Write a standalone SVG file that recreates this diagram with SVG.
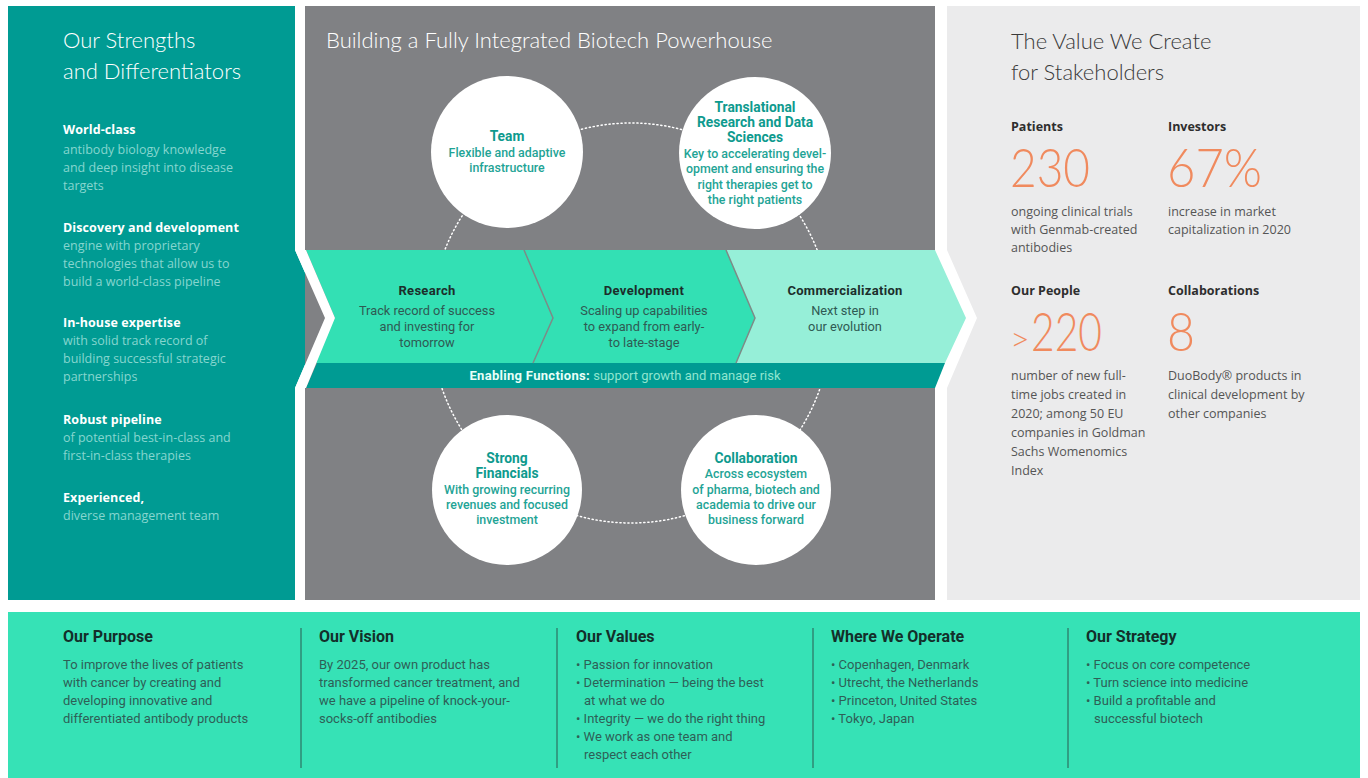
<svg xmlns="http://www.w3.org/2000/svg" width="1368" height="778" viewBox="0 0 1368 778">
<style>
.ttl{font-family:Lato,"Open Sans",sans-serif;font-weight:300;font-size:22px}
.lh{font-family:"Open Sans",sans-serif;font-weight:700;font-size:12.5px;fill:#ffffff;letter-spacing:0.1px}
.lb{font-family:"Open Sans",sans-serif;font-size:12.5px;fill:#86d6cf}
.ch{font-family:Roboto,sans-serif;font-weight:700;font-size:13.8px;fill:#0e9a8e;text-anchor:middle}
.cb{font-family:Roboto,sans-serif;font-weight:500;font-size:12.4px;fill:#1fa496;text-anchor:middle}
.bh{font-family:Roboto,sans-serif;font-weight:700;font-size:13px;fill:#1c2e2b;text-anchor:middle;letter-spacing:0.3px}
.bb{font-family:Roboto,sans-serif;font-size:12.8px;fill:#2f5a53;text-anchor:middle}
.rh{font-family:"Open Sans",sans-serif;font-weight:700;font-size:12.5px;fill:#2e2e2e}
.rb{font-family:"Open Sans",sans-serif;font-size:12.5px;fill:#555555}
.num{font-family:Lato,"Open Sans",sans-serif;font-weight:300;font-size:54px;fill:#f08a5e}
.fh{font-family:Roboto,sans-serif;font-weight:700;font-size:16px;fill:#132f2a}
.fb{font-family:Roboto,sans-serif;font-size:13px;fill:#2e5f56}
.dv{stroke:#2b5a51;stroke-width:1}
.circ{fill:#ffffff}
</style>

<rect width="1368" height="778" fill="#ffffff"/>

<g id="strengths">
  <polygon points="8,6 295,6 295,250 325,318 295,388 295,600 8,600" fill="#009b93"/>
  <text class="ttl" fill="#ffffff"><tspan x="63" y="48">Our Strengths</tspan><tspan x="63" y="79">and Differentiators</tspan></text>
  <text class="lh" x="63" y="134">World-class</text>
  <text class="lb"><tspan x="63" y="154">antibody biology knowledge</tspan><tspan x="63" y="172">and deep insight into disease</tspan><tspan x="63" y="190">targets</tspan></text>
  <text class="lh" x="63" y="232">Discovery and development</text>
  <text class="lb"><tspan x="63" y="250">engine with proprietary</tspan><tspan x="63" y="268">technologies that allow us to</tspan><tspan x="63" y="286">build a world-class pipeline</tspan></text>
  <text class="lh" x="63" y="327">In-house expertise</text>
  <text class="lb"><tspan x="63" y="345">with solid track record of</tspan><tspan x="63" y="363">building successful strategic</tspan><tspan x="63" y="381">partnerships</tspan></text>
  <text class="lh" x="63" y="424">Robust pipeline</text>
  <text class="lb"><tspan x="63" y="442">of potential best-in-class and</tspan><tspan x="63" y="460">first-in-class therapies</tspan></text>
  <text class="lh" x="63" y="502">Experienced,</text>
  <text class="lb" x="63" y="520">diverse management team</text>
</g>

<g id="powerhouse-panel">
  <rect x="305" y="6" width="630" height="594" fill="#808184"/>
  <text class="ttl" fill="#ffffff" x="326" y="48">Building a Fully Integrated Biotech Powerhouse</text>
</g>

<g id="connectors">
  <circle cx="631" cy="323" r="200" fill="none" stroke="#ffffff" stroke-width="1.5" stroke-dasharray="1.2 2.8" stroke-linecap="round"/>
</g>

<g id="team">
  <circle class="circ" cx="507" cy="152" r="76"/>
  <text class="ch" x="507" y="141">Team</text>
  <text class="cb"><tspan x="507" y="157">Flexible and adaptive</tspan><tspan x="507" y="172">infrastructure</tspan></text>
</g>

<g id="translational">
  <circle class="circ" cx="755" cy="153" r="76"/>
  <text class="ch"><tspan x="755" y="112">Translational</tspan><tspan x="755" y="127">Research and Data</tspan><tspan x="755" y="142">Sciences</tspan></text>
  <text class="cb"><tspan x="755" y="157.5">Key to accelerating devel-</tspan><tspan x="755" y="173">opment and ensuring the</tspan><tspan x="755" y="188.5">right therapies get to</tspan><tspan x="755" y="204">the right patients</tspan></text>
</g>

<g id="financials">
  <circle class="circ" cx="507" cy="490" r="75"/>
  <text class="ch"><tspan x="507" y="463">Strong</tspan><tspan x="507" y="478">Financials</tspan></text>
  <text class="cb"><tspan x="507" y="494">With growing recurring</tspan><tspan x="507" y="509">revenues and focused</tspan><tspan x="507" y="524">investment</tspan></text>
</g>

<g id="collaboration">
  <circle class="circ" cx="756" cy="490" r="75"/>
  <text class="ch" x="756" y="463">Collaboration</text>
  <text class="cb"><tspan x="756" y="478">Across ecosystem</tspan><tspan x="756" y="494">of pharma, biotech and</tspan><tspan x="756" y="509">academia to drive our</tspan><tspan x="756" y="524">business forward</tspan></text>
</g>

<g id="value-chain">
  <polygon points="306,250 524,250 553,318 533,363 306,363 335,318" fill="#33e0b4"/>
  <polygon points="524,250 726,250 755,318 736,363 533,363 553,318" fill="#33e0b4"/>
  <polygon points="726,250 935,250 966,318 945,363 736,363 755,318" fill="#96efd8"/>
  <polygon points="306,363 945,363 935,388 306,388 317,363" fill="#009b93"/>
  <polygon points="306,250 335,318 306,388 295,388 325,318 295,250" fill="#ffffff"/>
  <polyline points="524,250 553,318 533,363" fill="none" stroke="#7d8b87" stroke-width="1.5"/>
  <polyline points="726,250 755,318 736,363" fill="none" stroke="#7d8b87" stroke-width="1.5"/>
</g>

<g id="research">
  <text class="bh" x="427" y="295">Research</text>
  <text class="bb"><tspan x="427" y="315">Track record of success</tspan><tspan x="427" y="331">and investing for</tspan><tspan x="427" y="347">tomorrow</tspan></text>
</g>
<g id="development">
  <text class="bh" x="644" y="295">Development</text>
  <text class="bb"><tspan x="644" y="315">Scaling up capabilities</tspan><tspan x="644" y="331">to expand from early-</tspan><tspan x="644" y="347">to late-stage</tspan></text>
</g>
<g id="commercialization">
  <text class="bh" x="845" y="295">Commercialization</text>
  <text class="bb"><tspan x="845" y="315">Next step in</tspan><tspan x="845" y="331">our evolution</tspan></text>
</g>
<g id="enabling">
  <text x="625" y="380" text-anchor="middle" font-family="Roboto,sans-serif" font-size="13px"><tspan font-weight="700" fill="#e8fff8" letter-spacing="0.3">Enabling Functions:</tspan><tspan fill="#8fe6cf"> support growth and manage risk</tspan></text>
</g>

<g id="value-panel">
  <polygon points="947,6 1360,6 1360,600 947,600 947,388 977,318 947,250" fill="#ebebec"/>
  <text class="ttl" fill="#3a3a3a" font-size="21.5px"><tspan x="1011" y="49">The Value We Create</tspan><tspan x="1011" y="80">for Stakeholders</tspan></text>
</g>
<g id="patients">
  <text class="rh" x="1011" y="131">Patients</text>
  <text class="num" x="1010" y="187" textLength="80" lengthAdjust="spacingAndGlyphs">230</text>
  <text class="rb"><tspan x="1011" y="216">ongoing clinical trials</tspan><tspan x="1011" y="234">with Genmab-created</tspan><tspan x="1011" y="252">antibodies</tspan></text>
</g>
<g id="investors">
  <text class="rh" x="1168" y="131">Investors</text>
  <text class="num" x="1167" y="187" textLength="95" lengthAdjust="spacingAndGlyphs">67%</text>
  <text class="rb"><tspan x="1168" y="216">increase in market</tspan><tspan x="1168" y="234">capitalization in 2020</tspan></text>
</g>
<g id="people">
  <text class="rh" x="1011" y="295">Our People</text>
  <text class="num" x="1010" y="351"><tspan font-size="34px">&gt;</tspan><tspan x="1031" textLength="71" lengthAdjust="spacingAndGlyphs">220</tspan></text>
  <text class="rb"><tspan x="1011" y="380">number of new full-</tspan><tspan x="1011" y="399">time jobs created in</tspan><tspan x="1011" y="418">2020; among 50 EU</tspan><tspan x="1011" y="437">companies in Goldman</tspan><tspan x="1011" y="456">Sachs Womenomics</tspan><tspan x="1011" y="475">Index</tspan></text>
</g>
<g id="collaborations">
  <text class="rh" x="1168" y="295">Collaborations</text>
  <text class="num" x="1167" y="351" textLength="28" lengthAdjust="spacingAndGlyphs">8</text>
  <text class="rb"><tspan x="1168" y="380">DuoBody® products in</tspan><tspan x="1168" y="399">clinical development by</tspan><tspan x="1168" y="418">other companies</tspan></text>
</g>

<g id="foundation">
  <rect x="8" y="612" width="1352" height="166" fill="#36e2b6"/>
  <line class="dv" x1="301" y1="628" x2="301" y2="768"/>
  <line class="dv" x1="557" y1="628" x2="557" y2="768"/>
  <line class="dv" x1="813" y1="628" x2="813" y2="768"/>
  <line class="dv" x1="1068" y1="628" x2="1068" y2="768"/>
</g>
<g id="purpose">
  <text class="fh" x="63" y="642">Our Purpose</text>
  <text class="fb"><tspan x="63" y="669">To improve the lives of patients</tspan><tspan x="63" y="687">with cancer by creating and</tspan><tspan x="63" y="705">developing innovative and</tspan><tspan x="63" y="723">differentiated antibody products</tspan></text>
</g>
<g id="vision">
  <text class="fh" x="319" y="642">Our Vision</text>
  <text class="fb"><tspan x="319" y="669">By 2025, our own product has</tspan><tspan x="319" y="687">transformed cancer treatment, and</tspan><tspan x="319" y="705">we have a pipeline of knock-your-</tspan><tspan x="319" y="723">socks-off antibodies</tspan></text>
</g>
<g id="values">
  <text class="fh" x="576" y="642">Our Values</text>
  <text class="fb"><tspan x="576" y="669">• Passion for innovation</tspan><tspan x="576" y="687">• Determination — being the best</tspan><tspan x="584" y="705">at what we do</tspan><tspan x="576" y="723">• Integrity — we do the right thing</tspan><tspan x="576" y="741">• We work as one team and</tspan><tspan x="584" y="759">respect each other</tspan></text>
</g>
<g id="operate">
  <text class="fh" x="831" y="642">Where We Operate</text>
  <text class="fb"><tspan x="831" y="669">• Copenhagen, Denmark</tspan><tspan x="831" y="687">• Utrecht, the Netherlands</tspan><tspan x="831" y="705">• Princeton, United States</tspan><tspan x="831" y="723">• Tokyo, Japan</tspan></text>
</g>
<g id="strategy">
  <text class="fh" x="1086" y="642">Our Strategy</text>
  <text class="fb"><tspan x="1086" y="669">• Focus on core competence</tspan><tspan x="1086" y="687">• Turn science into medicine</tspan><tspan x="1086" y="705">• Build a profitable and</tspan><tspan x="1094" y="723">successful biotech</tspan></text>
</g>
</svg>
